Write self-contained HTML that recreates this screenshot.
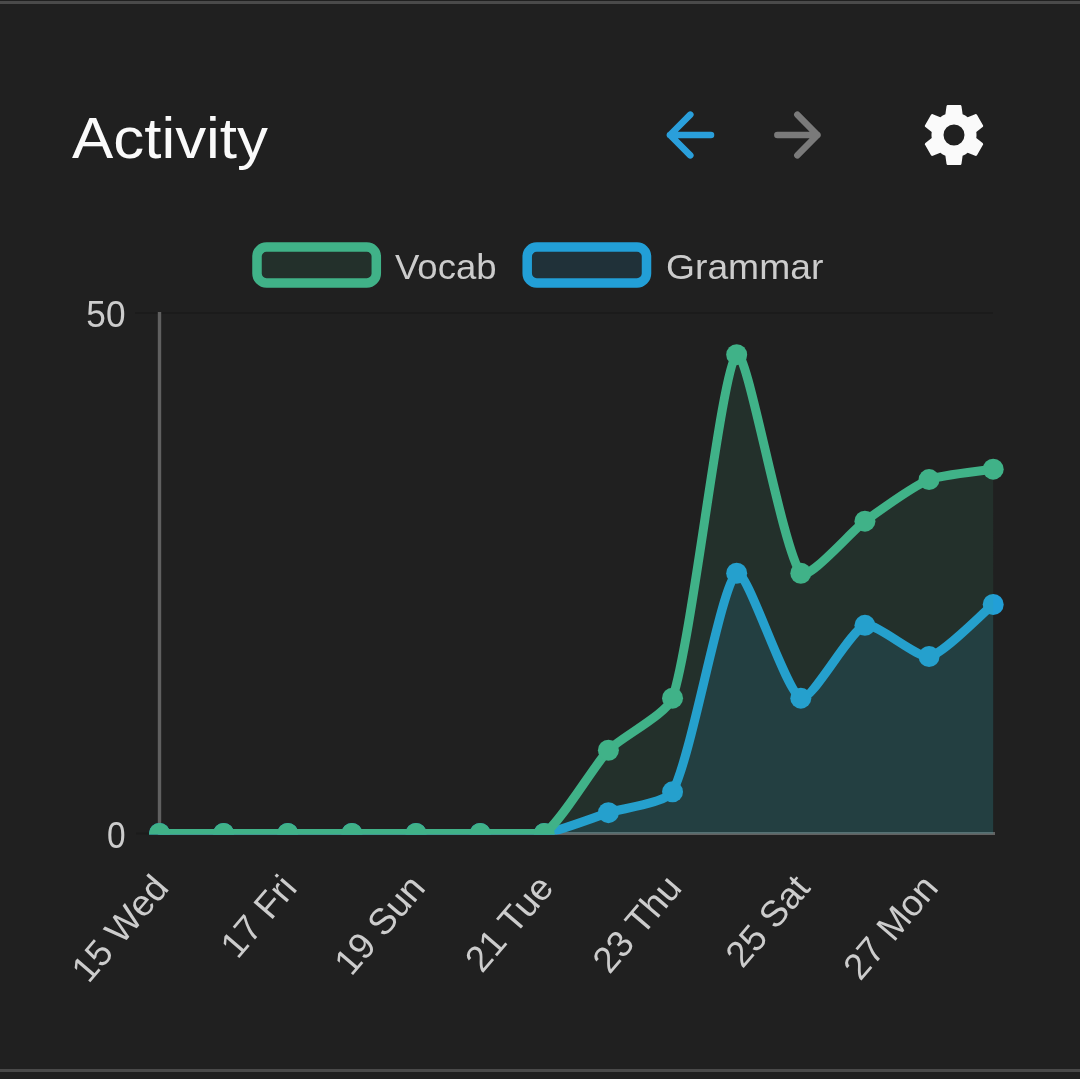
<!DOCTYPE html>
<html><head><meta charset="utf-8"><title>Activity</title>
<style>
html,body{margin:0;padding:0;background:#202020;}
body{width:1080px;height:1079px;overflow:hidden;position:relative;font-family:"Liberation Sans",sans-serif;}
svg{position:absolute;left:0;top:0;display:block;will-change:transform;}
text{font-family:"Liberation Sans",sans-serif;}
</style></head>
<body>
<svg width="1080" height="1079" viewBox="0 0 1080 1079">
<defs><clipPath id="ca"><rect x="0" y="313" width="1080" height="521.5"/></clipPath></defs>
<rect x="0" y="1" width="1080" height="3" fill="#4a4a4a"/>
<rect x="0" y="1069" width="1080" height="3" fill="#4a4a4a"/>
<text x="72" y="158" font-size="57.6" fill="#fafafa" textLength="196" lengthAdjust="spacingAndGlyphs">Activity</text>
<g fill="none" stroke-width="6.6" stroke-linecap="round" stroke-linejoin="round">
<path d="M711 135H670M690.3 114.7L670 135L690.3 155.3" stroke="#2a9fdb"/>
<path d="M777.4 135H817.4M797.4 114.7L817.4 135L797.4 155.3" stroke="#7a7a7a"/>
</g>
<path transform="translate(918 99) scale(3)" d="M12,15.5A3.5,3.5 0 0,1 8.5,12A3.5,3.5 0 0,1 12,8.5A3.5,3.5 0 0,1 15.5,12A3.5,3.5 0 0,1 12,15.5M19.43,12.97C19.47,12.65 19.5,12.33 19.5,12C19.5,11.67 19.47,11.34 19.43,11L21.54,9.37C21.73,9.22 21.78,8.95 21.66,8.73L19.66,5.27C19.54,5.05 19.27,4.96 19.05,5.05L16.56,6.05C16.04,5.66 15.5,5.32 14.87,5.07L14.5,2.42C14.46,2.18 14.25,2 14,2H10C9.75,2 9.54,2.18 9.5,2.42L9.13,5.07C8.5,5.32 7.96,5.66 7.44,6.05L4.95,5.05C4.73,4.96 4.46,5.05 4.34,5.27L2.34,8.73C2.21,8.95 2.27,9.22 2.46,9.37L4.57,11C4.53,11.34 4.5,11.67 4.5,12C4.5,12.33 4.53,12.65 4.57,12.97L2.46,14.63C2.27,14.78 2.21,15.05 2.34,15.27L4.34,18.73C4.46,18.95 4.73,19.03 4.95,18.95L7.44,17.94C7.96,18.34 8.5,18.68 9.13,18.93L9.5,21.58C9.54,21.82 9.75,22 10,22H14C14.25,22 14.46,21.82 14.5,21.58L14.87,18.93C15.5,18.67 16.04,18.34 16.56,17.94L19.05,18.95C19.27,19.03 19.54,18.95 19.66,18.73L21.66,15.27C21.78,15.05 21.73,14.78 21.54,14.63L19.43,12.97Z" fill="#fafafa"/>
<rect x="257" y="247" width="119.3" height="35.9" rx="9.5" fill="rgba(64,178,136,0.115)" stroke="#40b288" stroke-width="9.5"/>
<rect x="527.2" y="247" width="119.3" height="35.9" rx="9.5" fill="rgba(34,159,215,0.14)" stroke="#229fd7" stroke-width="9.5"/>
<g fill="#cccccc" font-size="35.7">
<text x="395" y="278.7" textLength="101.6" lengthAdjust="spacingAndGlyphs">Vocab</text>
<text x="666" y="278.7" textLength="157.3" lengthAdjust="spacingAndGlyphs">Grammar</text>
</g>
<g fill="#cccccc" font-size="37.6" text-anchor="end">
<text x="125.5" y="327.4" textLength="39.2" lengthAdjust="spacingAndGlyphs">50</text>
<text x="125.5" y="848.3" textLength="18.6" lengthAdjust="spacingAndGlyphs">0</text>
</g>
<rect x="135" y="312" width="858" height="2" fill="#1b1b1b"/>
<rect x="136" y="832.5" width="22" height="2" fill="#1b1b1b"/>
<rect x="157.8" y="312" width="3.4" height="523" fill="#606060"/>
<rect x="158" y="832" width="837" height="3" fill="#626262"/>
<g clip-path="url(#ca)">
<path d="M159.50 833.50 C172.33 833.50 210.80 833.50 223.63 833.50 C236.46 833.50 274.94 833.50 287.76 833.50 C300.59 833.50 339.07 833.50 351.89 833.50 C364.72 833.50 403.20 833.50 416.02 833.50 C428.85 833.50 467.33 833.50 480.15 833.50 C492.98 833.50 531.78 833.50 544.28 833.50 C557.43 831.37 595.59 816.84 608.42 812.68 C621.24 808.52 666.69 802.80 672.55 791.86 C692.34 754.91 720.81 584.84 736.68 573.25 C746.46 566.10 785.64 692.01 800.81 698.17 C811.29 702.42 850.15 630.10 864.94 625.30 C875.80 621.77 917.18 658.46 929.07 656.53 C942.83 654.30 980.37 614.89 993.20 604.48 L993.20 833.50 L159.50 833.50 Z" fill="rgba(34,159,215,0.14)"/>
<path d="M159.50 833.50 C172.33 833.50 210.80 833.50 223.63 833.50 C236.46 833.50 274.94 833.50 287.76 833.50 C300.59 833.50 339.07 833.50 351.89 833.50 C364.72 833.50 403.20 833.50 416.02 833.50 C428.85 833.50 467.33 833.50 480.15 833.50 C492.98 833.50 531.78 833.50 544.28 833.50 C557.43 831.37 595.59 816.84 608.42 812.68 C621.24 808.52 666.69 802.80 672.55 791.86 C692.34 754.91 720.81 584.84 736.68 573.25 C746.46 566.10 785.64 692.01 800.81 698.17 C811.29 702.42 850.15 630.10 864.94 625.30 C875.80 621.77 917.18 658.46 929.07 656.53 C942.83 654.30 980.37 614.89 993.20 604.48" fill="none" stroke="#229fd7" stroke-width="9"/>
<g fill="#229fd7"><circle cx="159.50" cy="833.50" r="10.5"/><circle cx="223.63" cy="833.50" r="10.5"/><circle cx="287.76" cy="833.50" r="10.5"/><circle cx="351.89" cy="833.50" r="10.5"/><circle cx="416.02" cy="833.50" r="10.5"/><circle cx="480.15" cy="833.50" r="10.5"/><circle cx="544.28" cy="833.50" r="10.5"/><circle cx="608.42" cy="812.68" r="10.5"/><circle cx="672.55" cy="791.86" r="10.5"/><circle cx="736.68" cy="573.25" r="10.5"/><circle cx="800.81" cy="698.17" r="10.5"/><circle cx="864.94" cy="625.30" r="10.5"/><circle cx="929.07" cy="656.53" r="10.5"/><circle cx="993.20" cy="604.48" r="10.5"/></g>
<path d="M159.50 833.50 C172.33 833.50 210.80 833.50 223.63 833.50 C236.46 833.50 274.94 833.50 287.76 833.50 C300.59 833.50 339.07 833.50 351.89 833.50 C364.72 833.50 403.20 833.50 416.02 833.50 C428.85 833.50 467.33 833.50 480.15 833.50 C492.98 833.50 534.56 833.50 544.28 833.50 C560.22 823.16 594.05 765.38 608.42 750.22 C619.70 738.31 667.64 713.29 672.55 698.17 C693.29 634.18 721.15 369.76 736.68 354.64 C746.80 344.78 781.98 548.80 800.81 573.25 C807.63 582.11 851.62 530.93 864.94 521.20 C877.27 512.19 915.20 485.19 929.07 479.56 C940.85 474.78 980.37 471.23 993.20 469.15 L993.20 833.50 L159.50 833.50 Z" fill="rgba(64,178,136,0.115)"/>
<path d="M159.50 833.50 C172.33 833.50 210.80 833.50 223.63 833.50 C236.46 833.50 274.94 833.50 287.76 833.50 C300.59 833.50 339.07 833.50 351.89 833.50 C364.72 833.50 403.20 833.50 416.02 833.50 C428.85 833.50 467.33 833.50 480.15 833.50 C492.98 833.50 534.56 833.50 544.28 833.50 C560.22 823.16 594.05 765.38 608.42 750.22 C619.70 738.31 667.64 713.29 672.55 698.17 C693.29 634.18 721.15 369.76 736.68 354.64 C746.80 344.78 781.98 548.80 800.81 573.25 C807.63 582.11 851.62 530.93 864.94 521.20 C877.27 512.19 915.20 485.19 929.07 479.56 C940.85 474.78 980.37 471.23 993.20 469.15" fill="none" stroke="#40b288" stroke-width="9"/>
<g fill="#40b288"><circle cx="159.50" cy="833.50" r="10.5"/><circle cx="223.63" cy="833.50" r="10.5"/><circle cx="287.76" cy="833.50" r="10.5"/><circle cx="351.89" cy="833.50" r="10.5"/><circle cx="416.02" cy="833.50" r="10.5"/><circle cx="480.15" cy="833.50" r="10.5"/><circle cx="544.28" cy="833.50" r="10.5"/><circle cx="608.42" cy="750.22" r="10.5"/><circle cx="672.55" cy="698.17" r="10.5"/><circle cx="736.68" cy="354.64" r="10.5"/><circle cx="800.81" cy="573.25" r="10.5"/><circle cx="864.94" cy="521.20" r="10.5"/><circle cx="929.07" cy="479.56" r="10.5"/><circle cx="993.20" cy="469.15" r="10.5"/></g>
</g>
<g fill="#cccccc" font-size="36.75">
<text transform="translate(170.30 888.70) rotate(-49.50)" text-anchor="end">15 Wed</text>
<text transform="translate(298.56 888.70) rotate(-49.50)" text-anchor="end">17 Fri</text>
<text transform="translate(426.82 888.70) rotate(-49.50)" text-anchor="end">19 Sun</text>
<text transform="translate(555.08 888.70) rotate(-49.50)" text-anchor="end">21 Tue</text>
<text transform="translate(683.35 888.70) rotate(-49.50)" text-anchor="end">23 Thu</text>
<text transform="translate(811.61 888.70) rotate(-49.50)" text-anchor="end">25 Sat</text>
<text transform="translate(939.87 888.70) rotate(-49.50)" text-anchor="end">27 Mon</text>
</g>
</svg>
</body></html>
